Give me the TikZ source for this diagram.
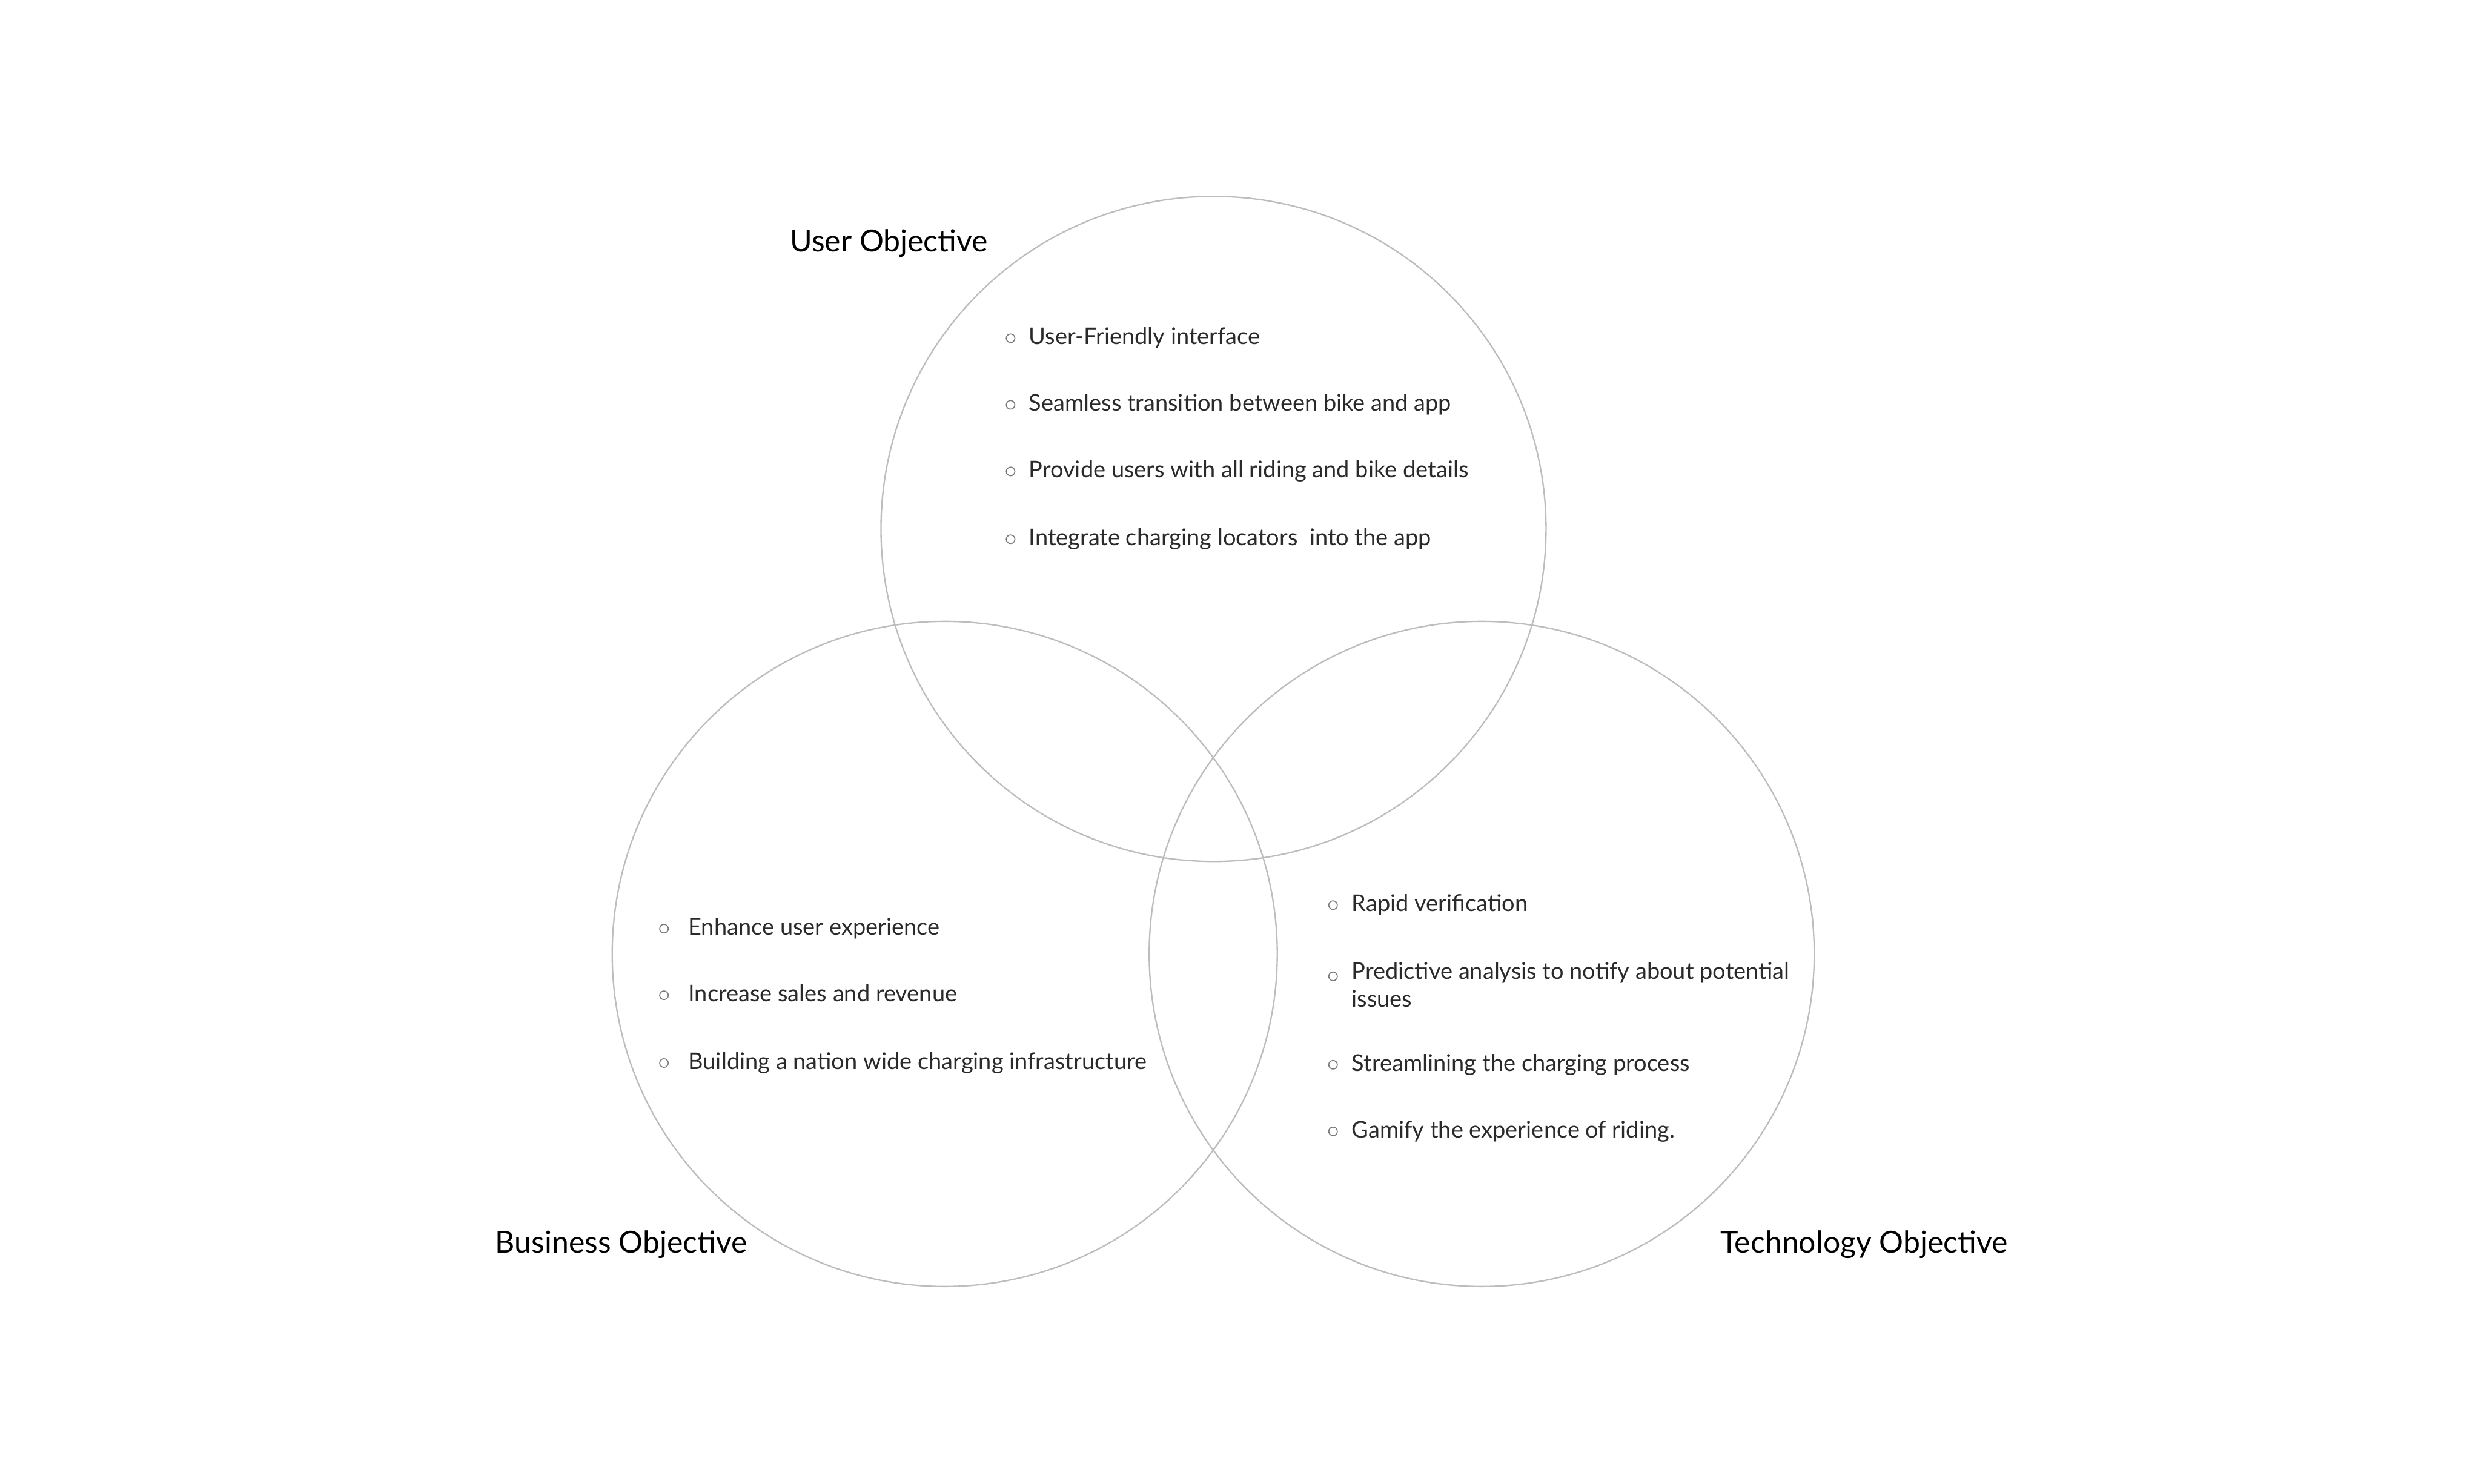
\documentclass[tikz,border=0pt]{standalone}
\usepackage{fontspec}
\setmainfont{Lato}
\usepackage{xcolor}
\usetikzlibrary{positioning}

\definecolor{ringgray}{HTML}{BDBDBD}
\definecolor{dotgray}{HTML}{7A7A7A}
\definecolor{itemgray}{HTML}{2A2A2A}

\begin{document}
\begin{tikzpicture}[
  ring/.style={circle, draw=ringgray, line width=0.7pt, minimum size=11.58cm, inner sep=0pt},
  title/.style={anchor=base west, inner sep=0pt, font=\fontsize{15}{18}\selectfont, text=black},
  item/.style={anchor=base west, inner sep=0pt, font=\fontsize{11.4}{13.5}\selectfont, text=itemgray},
  dot/.style={circle, draw=dotgray, line width=0.5pt, minimum size=0.15cm, inner sep=0pt}
]
  \useasboundingbox (0,0) rectangle (43.2,25.83);
  % circles
  \node[ring] (user) at (21.13,16.62) {};
  \node[ring] (business) at (16.45,9.22) {};
  \node[ring] (tech) at (25.80,9.22) {};
  % titles
  \node[title] (userT) at (13.75,21.45) {User Objective};
  \node[title] (businessT) at (8.62,4.01) {Business Objective};
  \node[title] (techT) at (29.95,4.01) {Technology Objective};
  % user items
  \foreach \n/\y/\txt in {u1/19.83/User-Friendly interface,
                          u2/18.67/Seamless transition between bike and app,
                          u3/17.51/Provide users with all riding and bike details,
                          u4/16.33/Integrate charging locators\ \ into the app} {
    \node[item] (\n) at (17.91,\y) {\txt};
    \node[dot, left=0.23cm of \n.base west, yshift=0.11cm] (\n-dot) {};
  }
  % business items
  \foreach \n/\y/\txt in {b1/9.55/Enhance user experience,
                          b2/8.39/Increase sales and revenue,
                          b3/7.21/Building a nation wide charging infrastructure} {
    \node[item] (\n) at (11.98,\y) {\txt};
    \node[dot, left=0.335cm of \n.base west, yshift=0.11cm] (\n-dot) {};
  }
  % technology items
  \foreach \n/\y/\dy/\txt in {t1/9.96/0.11/Rapid verification,
                              t2/8.78/0.05/Predictive analysis to notify about potential,
                              t3/7.18/0.11/Streamlining the charging process,
                              t4/6.02/0.11/Gamify the experience of riding.} {
    \node[item] (\n) at (23.53,\y) {\txt};
    \node[dot, left=0.235cm of \n.base west, yshift=\dy cm] (\n-dot) {};
  }
  \node[item] (t2b) at (23.53,8.30) {issues};
\end{tikzpicture}
\end{document}
